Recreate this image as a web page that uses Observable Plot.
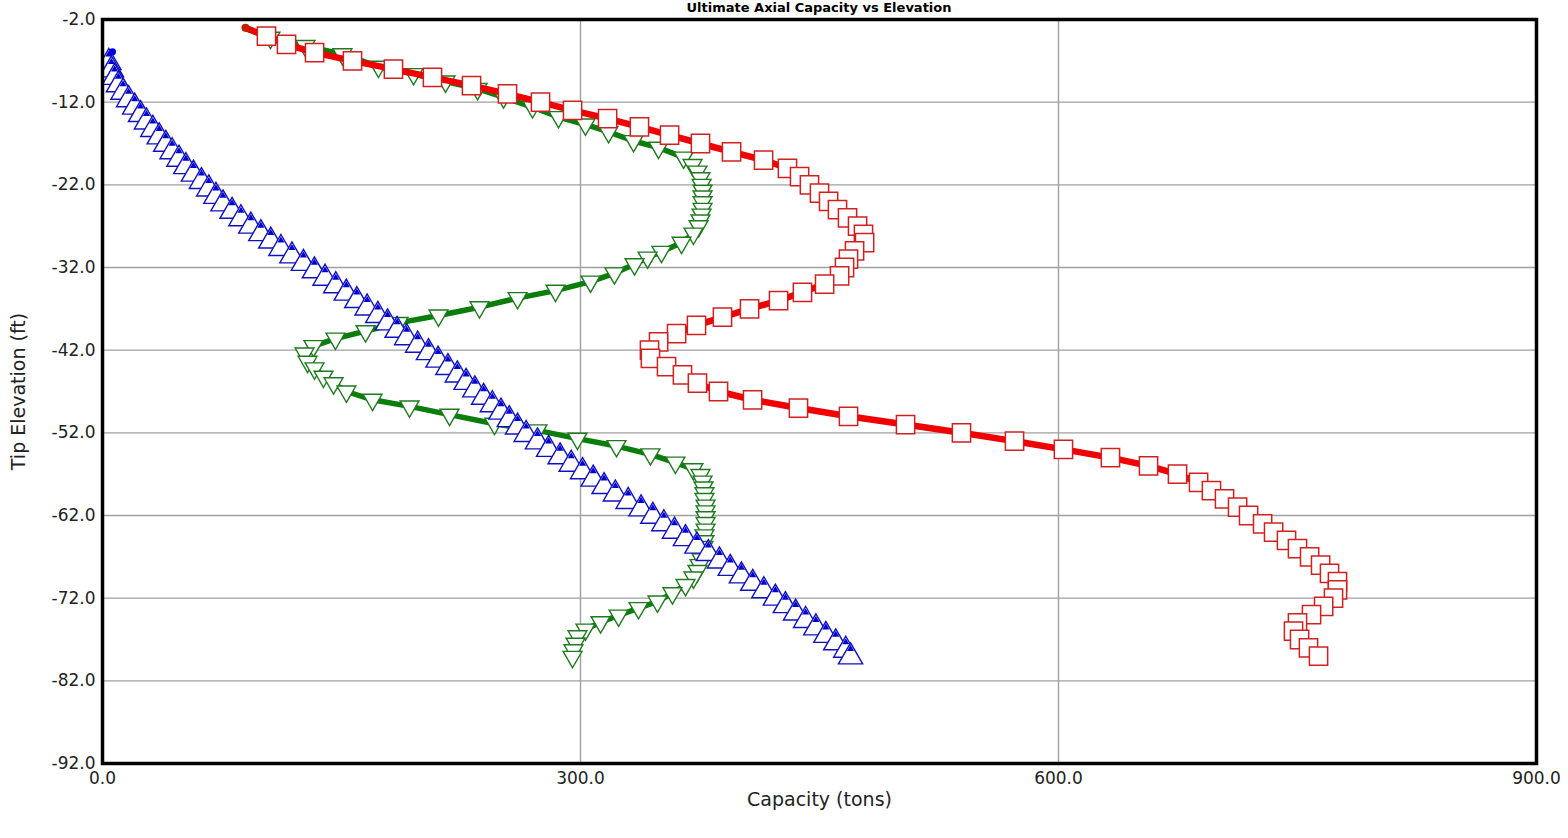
<!DOCTYPE html>
<html><head><meta charset="utf-8">
<script src="https://cdn.jsdelivr.net/npm/d3@7"></script>
<script src="https://cdn.jsdelivr.net/npm/@observablehq/plot@0.6"></script>
<style>
html,body{margin:0;padding:0;background:#fff;}
#wrap{position:relative;width:1568px;height:838px;overflow:hidden;}
#title{position:absolute;left:819px;top:0px;transform:translateX(-50%);white-space:nowrap;font:bold 13px "DejaVu Sans",sans-serif;line-height:15px;color:#000;}
</style></head><body>
<div id="wrap"><div id="title">Ultimate Axial Capacity vs Elevation</div><div id="chart"></div></div>
<script>
const xTicks = [0, 300, 600, 900];
const yTicks = [-2, -12, -22, -32, -42, -52, -62, -72, -82, -92];

const redElev = [-3,-4,-5,-6,-7,-8,-9,-10,-11,-12,-13,-14,-15,-16,-17,-18,-19,-20,-21,-22,-23,-24,-25,-26,-27,-28,-29,-30,-31,-32,-33,-34,-35,-36,-37,-38,-39,-40,-41,-42,-43,-44,-45,-46,-47,-48,-49,-50,-51,-52,-53,-54,-55,-56,-57,-58,-59,-60,-61,-62,-63,-64,-65,-66,-67,-68,-69,-70,-71,-72,-73,-74,-75,-76,-77,-78,-79];
const redCap = [89.7,102.9,115.5,133.1,156.9,182.6,207.1,231.6,254.2,274.9,295.0,317.0,337.0,355.9,375.3,394.8,414.9,429.9,437.5,443.7,450.0,455.7,461.3,467.6,473.9,477.6,478.3,472.0,468.2,465.7,462.6,453.2,439.3,424.3,406.1,389.1,372.8,360.3,349.0,343.3,343.9,354.0,364.0,373.4,386.6,408.0,436.8,468.2,504.0,539.1,572.4,603.1,632.6,656.5,674.7,687.9,696.0,704.2,712.4,719.3,728.1,735.0,743.1,750.0,757.6,764.5,770.1,775.1,775.1,772.6,766.4,758.8,750.0,747.5,751.3,756.9,763.2];

const greenElev = [-3.1,-4.2,-5.2,-6.2,-7.7,-8.6,-9.5,-10.4,-11.4,-12.6,-13.8,-14.7,-15.6,-16.7,-17.5,-18.7,-19.6,-20.4,-21.2,-22.0,-22.7,-23.4,-24.1,-24.9,-25.6,-26.3,-27.0,-27.9,-29.0,-30.1,-30.8,-31.6,-32.7,-33.7,-34.8,-35.7,-36.8,-37.8,-38.7,-39.7,-40.6,-41.5,-42.4,-43.4,-44.2,-45.2,-46.0,-47.0,-48.0,-48.8,-49.8,-50.9,-51.7,-52.7,-53.6,-54.6,-55.6,-56.4,-57.1,-57.9,-58.6,-59.3,-60.0,-60.8,-61.5,-62.2,-62.9,-63.7,-64.4,-65.1,-65.8,-66.6,-67.3,-68.0,-68.7,-69.5,-70.4,-71.4,-72.4,-73.2,-74.1,-74.9,-75.8,-76.6,-77.5,-78.3,-79.1];
const greenCap = [89.8,105.4,127.4,150.6,173.2,195.2,215.3,235.4,251.7,269.9,286.2,303.1,317.6,333.3,349.0,364.7,370.3,373.4,375.3,376.0,376.6,376.6,376.6,376.6,376.0,375.3,374.1,370.9,363.4,350.8,342.1,333.9,321.3,306.3,284.3,260.5,236.6,210.9,185.8,165.1,146.2,132.4,126.8,128.7,133.1,138.7,145.0,153.1,169.5,192.7,217.8,246.0,273.0,298.1,322.6,343.9,359.6,370.9,375.3,376.6,377.2,377.8,377.8,378.5,378.5,378.5,378.5,378.5,377.8,377.8,377.2,376.6,376.0,374.7,373.4,370.9,365.9,357.7,348.3,336.4,323.9,312.6,303.1,298.1,296.9,295.6,295.0];

const blueElev = [-5.9,-7.2,-8.1,-9.0,-9.9,-10.8,-11.7,-12.6,-13.5,-14.4,-15.3,-16.2,-17.1,-18.0,-18.9,-19.8,-20.7,-21.6,-22.5,-23.4,-24.3,-25.2,-26.1,-27.0,-27.9,-28.8,-29.7,-30.6,-31.5,-32.4,-33.3,-34.2,-35.1,-36.0,-36.9,-37.8,-38.7,-39.6,-40.5,-41.4,-42.3,-43.2,-44.1,-45.0,-45.9,-46.8,-47.7,-48.6,-49.5,-50.4,-51.3,-52.2,-53.1,-54.0,-54.9,-55.8,-56.7,-57.6,-58.5,-59.4,-60.3,-61.2,-62.1,-63.0,-63.9,-64.8,-65.7,-66.6,-67.5,-68.4,-69.3,-70.2,-71.1,-72.0,-72.9,-73.8,-74.7,-75.6,-76.5,-77.4,-78.3,-79.1];
const blueCap = [6.3,4.0,5.6,7.6,10.0,12.9,16.4,20.2,23.9,27.6,31.6,35.6,39.7,43.7,48.0,52.3,57.1,62.1,66.7,71.2,75.6,81.3,86.9,93.1,99.4,105.6,112.0,118.9,126.1,133.0,139.7,146.4,153.0,159.6,166.1,172.8,178.9,184.9,190.9,197.8,204.6,210.6,216.8,222.7,228.2,233.7,239.2,244.7,250.1,255.3,260.5,265.9,273.0,280.0,287.2,294.2,301.3,308.0,314.8,321.9,329.9,338.0,345.4,352.3,359.0,365.9,373.1,380.2,387.2,394.0,401.0,408.1,415.1,422.3,428.6,435.0,441.3,447.7,454.0,460.2,466.5,469.5];

const toRows = (elev, cap) => elev.map((e, i) => ({elev: e, cap: cap[i], i}));
const red = toRows(redElev, redCap);
const green = toRows(greenElev, greenCap);
const blue = toRows(blueElev, blueCap);
const notFirst = d => d.filter(r => r.i > 0);
const first = d => d.filter(r => r.i === 0);

const triDown = {draw(ctx, size) {
  const y = Math.sqrt(size) * 0.6824, t = y / 2, u = y * Math.sqrt(3) / 2;
  ctx.moveTo(0, y); ctx.lineTo(u, -t); ctx.lineTo(-u, -t); ctx.closePath();
}};

const fmt = d => d.toFixed(1);
const font = "DejaVu Sans, sans-serif";

const chart = Plot.plot({
  width: 1568, height: 838,
  marginLeft: 102, marginRight: 32, marginTop: 19, marginBottom: 75,
  style: {fontFamily: font, fontSize: "17px", color: "#222", background: "#fff"},
  x: {domain: [0, 900], ticks: xTicks},
  y: {domain: [-92, -2], ticks: yTicks},
  marks: [
    Plot.gridX(xTicks, {stroke: "#a0a0a0", strokeOpacity: 1, strokeWidth: 1.4}),
    Plot.gridY(yTicks, {stroke: "#a0a0a0", strokeOpacity: 1, strokeWidth: 1.4}),
    // green
    Plot.line(green, {x: "cap", y: "elev", stroke: "#0a7d0a", strokeWidth: 5.5, strokeLinejoin: "round"}),
    Plot.dot(notFirst(green), {x: "cap", y: "elev", symbol: triDown, r: 9, fill: "white", stroke: "#1f7a1f", strokeWidth: 1.4}),
    // blue
    Plot.line(blue, {x: "cap", y: "elev", stroke: "#0000d0", strokeWidth: 1.8}),
    Plot.dot(notFirst(blue), {x: "cap", y: "elev", symbol: "triangle", r: 9, fill: "white", stroke: "#1010c0", strokeWidth: 1.4, clip: true}),
    Plot.dot(notFirst(blue), {x: "cap", y: "elev", symbol: "triangle", r: 2.6, dy: -8, fill: "#0000d0", clip: true}),
    Plot.dot(first(blue), {x: "cap", y: "elev", r: 3.5, fill: "#0000e0"}),
    // red
    Plot.line(red, {x: "cap", y: "elev", stroke: "#f00000", strokeWidth: 6.5, strokeLinejoin: "round"}),
    Plot.dot(notFirst(red), {x: "cap", y: "elev", symbol: "square", r: 10.3, fill: "white", stroke: "#d02020", strokeWidth: 1.5}),
    Plot.dot(first(red), {x: "cap", y: "elev", r: 4, fill: "#c02000"}),
    Plot.frame({stroke: "black", strokeWidth: 3.5}),
    Plot.axisX(xTicks, {tickSize: 0, tickPadding: 8, tickFormat: fmt, label: null, fontSize: 17}),
    Plot.axisY(yTicks, {tickSize: 0, tickPadding: 7, tickFormat: fmt, label: null, fontSize: 17}),
    Plot.text(["Capacity (tons)"], {frameAnchor: "bottom", dy: 42, fontSize: 19, fill: "#222"}),
    Plot.text(["Tip Elevation (ft)"], {frameAnchor: "left", dx: -84, rotate: -90, textAnchor: "middle", fontSize: 19, fill: "#222"})
  ]
});
document.getElementById("chart").appendChild(chart);
</script>
</body></html>
